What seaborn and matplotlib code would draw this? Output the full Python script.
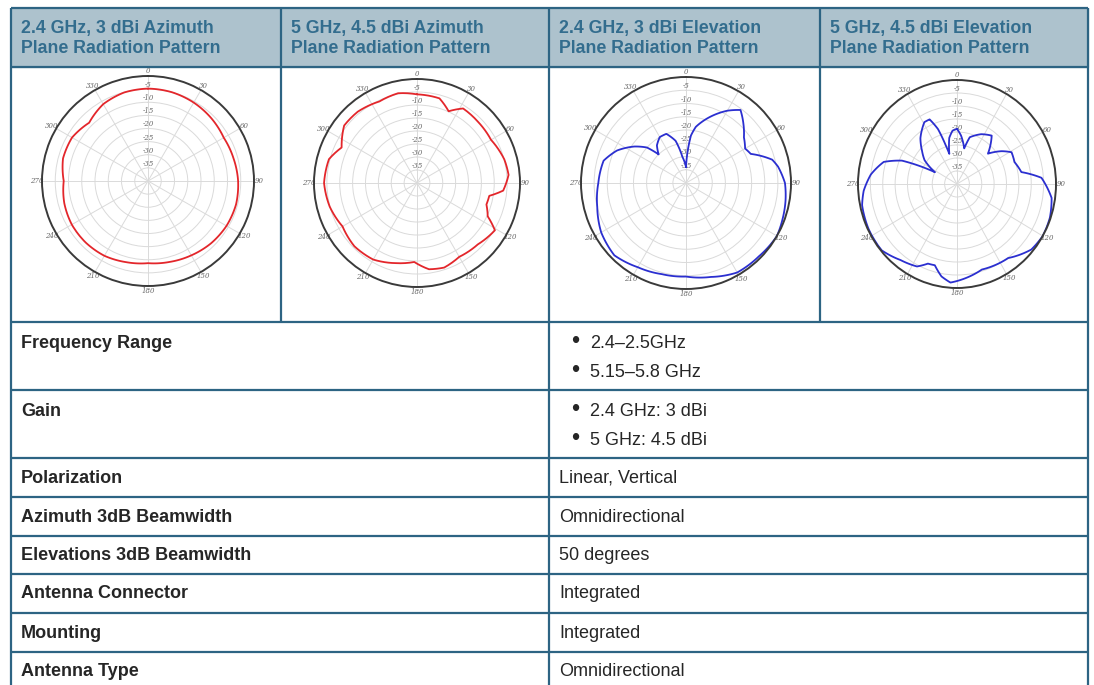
import numpy as np
import pandas as pd
import seaborn as sns
import matplotlib.pyplot as plt
from matplotlib.patches import Rectangle

# header cells above the four patterns
headers = ["2.4 GHz, 3 dBi Azimuth\nPlane Radiation Pattern",
           "5 GHz, 4.5 dBi Azimuth\nPlane Radiation Pattern",
           "2.4 GHz, 3 dBi Elevation\nPlane Radiation Pattern",
           "5 GHz, 4.5 dBi Elevation\nPlane Radiation Pattern"]

# radiation patterns: angle in degrees (clockwise from top), gain in dB
az24_ang = [0, 15, 30, 45, 60, 75, 90, 105, 120, 135, 150, 165, 180, 195,
            210, 225, 240, 255, 270, 285, 300, 315, 330, 345]
az24_db = [-4.8, -5.0, -5.5, -6.2, -7.0, -6.6, -6.0, -5.6, -5.8, -6.4, -7.3, -8.1,
           -8.7, -8.0, -7.1, -6.8, -6.8, -7.3, -8.2, -6.8, -6.9, -8.6, -6.2, -5.1]

az5_ang = [0, 15, 24, 32, 45, 60, 75, 85, 95, 100, 107, 115, 121, 135, 150,
           162, 172, 182, 195, 210, 225, 240, 255, 270, 285, 295, 308, 320, 335, 348]
az5_db = [-5.9, -6.3, -9.8, -6.2, -6.6, -6.8, -4.9, -4.3, -6.4, -11.5, -11.8, -9.7,
          -4.7, -6.6, -7.2, -5.8, -6.5, -9.6, -8.1, -6.0, -5.6, -6.6, -4.9, -3.9,
          -4.6, -7.7, -4.1, -4.2, -5.4, -4.7]

el24_ang = [0, 3, 6, 10, 20, 30, 37, 45, 52, 60, 66, 75, 80, 90, 100, 110, 120,
            135, 150, 165, 180, 195, 210, 225, 240, 255, 270, 285, 295, 305, 312,
            316, 322, 330, 338, 346, 352]
el24_db = [-34, -28, -22, -18.5, -13.5, -8.5, -5.5, -9, -12, -14, -13, -6, -4.4,
           -2.3, -1.5, -0.8, 0, -0.8, -1, -3.3, -4.7, -4.4, -3.3, -1.4, -2.7, -5,
           -6.6, -7.5, -11, -16, -20, -25, -22, -20, -20, -23.6, -30]

el5_ang = [0, 5, 12, 16, 27, 37, 47, 55, 61, 70, 80, 86, 98, 109, 120, 130, 144,
           163, 177, 184, 190, 196, 201, 207, 218, 230, 244, 258, 266, 276, 286,
           292, 297, 305, 312, 320, 331, 336, 340, 343, 345, 350, 355]
el5_db = [-18.8, -21.3, -26, -21.3, -18.5, -16.7, -22.9, -18, -14.8, -15.3, -13.6,
          -5.8, -1.4, -0.3, 0, -0.8, -4.8, -5.6, -3.2, -2, -3.9, -7.5, -7.2, -4.4,
          -2.9, -0.3, -0.3, -0.8, -2.2, -5, -9.2, -16, -30, -24, -21, -17, -12.8,
          -12.8, -17.5, -24.5, -28, -22, -19.4]

# spec table
spec_names = ["Frequency Range", "Gain", "Polarization", "Azimuth 3dB Beamwidth",
              "Elevations 3dB Beamwidth", "Antenna Connector", "Mounting", "Antenna Type"]
spec_values = [["2.4–2.5GHz", "5.15–5.8 GHz"], ["2.4 GHz: 3 dBi", "5 GHz: 4.5 dBi"],
               "Linear, Vertical", "Omnidirectional", "50 degrees", "Integrated",
               "Integrated", "Omnidirectional"]

sns.set_theme(style="white")
plt.rcParams['font.family'] = ['Liberation Sans', 'DejaVu Sans']

W, H = 1094, 685
fig = plt.figure(figsize=(W / 100, H / 100), dpi=100)
ax = fig.add_axes([0, 0, 1, 1])
ax.set_xlim(0, W)
ax.set_ylim(H, 0)
ax.axis('off')

border = '#2d6483'
head_bg = '#adc2cd'
head_fg = '#336d8e'
left, right, top = 11, 1088, 8
col_x = [left, 281, 549, 820, right]
row_y = [67, 322, 390, 458, 497, 536, 574, 613, 652]

ax.add_patch(Rectangle((left, top), right - left, row_y[0] - top, color=head_bg, zorder=0))
ax.hlines([top] + row_y, left, right, color=border, lw=1.6)
ax.vlines([left, 549, right], top, H, color=border, lw=1.6)
ax.vlines([281, 820], top, row_y[1], color=border, lw=1.6)

for i, h in enumerate(headers):
    l1, l2 = h.split("\n")
    ax.text(col_x[i] + 10, 28, l1, fontsize=12.8, fontweight='bold', color=head_fg, va='center')
    ax.text(col_x[i] + 10, 48, l2, fontsize=12.8, fontweight='bold', color=head_fg, va='center')

# spec rows
row_top = row_y[1:]
for i, name in enumerate(spec_names):
    y0 = row_top[i]
    val = spec_values[i]
    if isinstance(val, list):
        ax.text(21, y0 + 21, name, fontsize=13, fontweight='bold', va='center')
        for j, v in enumerate(val):
            yy = y0 + 21 + j * 29
            ax.text(575, yy - 1, "•", fontsize=17, va='center', ha='center')
            ax.text(590, yy, v, fontsize=13, va='center')
    else:
        ax.text(21, y0 + 20, name, fontsize=13, fontweight='bold', va='center')
        ax.text(559, y0 + 20, val, fontsize=13, va='center')


def pattern(cx, cy, rx, ry, ang, db, color):
    pax = fig.add_axes([(cx - rx) / W, 1 - (cy + ry) / H, 2 * rx / W, 2 * ry / H],
                       projection='polar')
    pax.set_theta_zero_location('N')
    pax.set_theta_direction(-1)
    df = pd.DataFrame({'theta': np.deg2rad(ang + [ang[0] + 360]), 'gain': db + [db[0]]})
    sns.lineplot(data=df, x='theta', y='gain', ax=pax, color=color, lw=1.3,
                 sort=False, estimator=None)
    # draw each segment as a polar arc rather than a straight chord
    for ln in pax.lines:
        ln.get_path()._interpolation_steps = 12
    pax.set_ylim(-40, 0)
    pax.set_xticks(np.deg2rad(np.arange(0, 360, 30)))
    pax.set_xticklabels([str(a) for a in range(0, 360, 30)], fontsize=5,
                        fontstyle='italic', color='#666666', family='DejaVu Serif')
    pax.set_yticks(list(range(-35, 0, 5)))
    pax.set_yticklabels([str(v) for v in range(-35, 0, 5)], fontsize=5,
                        fontstyle='italic', color='#666666', family='DejaVu Serif')
    pax.set_rlabel_position(0)
    for t in pax.get_yticklabels():
        t.set_ha('center')
    pax.tick_params(axis='x', pad=-3.5, length=0)
    pax.grid(True, color='#dadada', lw=0.7)
    pax.spines['polar'].set_color('#3a3a3a')
    pax.spines['polar'].set_linewidth(1.4)
    pax.set_xlabel('')
    pax.set_ylabel('')
    pax.set_aspect('auto')


red = '#e3262b'
blue = '#2b2fd0'
pattern(148, 181, 106, 105, az24_ang, az24_db, red)
pattern(417, 183, 103, 104, az5_ang, az5_db, red)
pattern(686, 183, 105, 106, el24_ang, el24_db, blue)
pattern(957, 184, 99, 104, el5_ang, el5_db, blue)

fig.savefig('out.png', dpi=100)
